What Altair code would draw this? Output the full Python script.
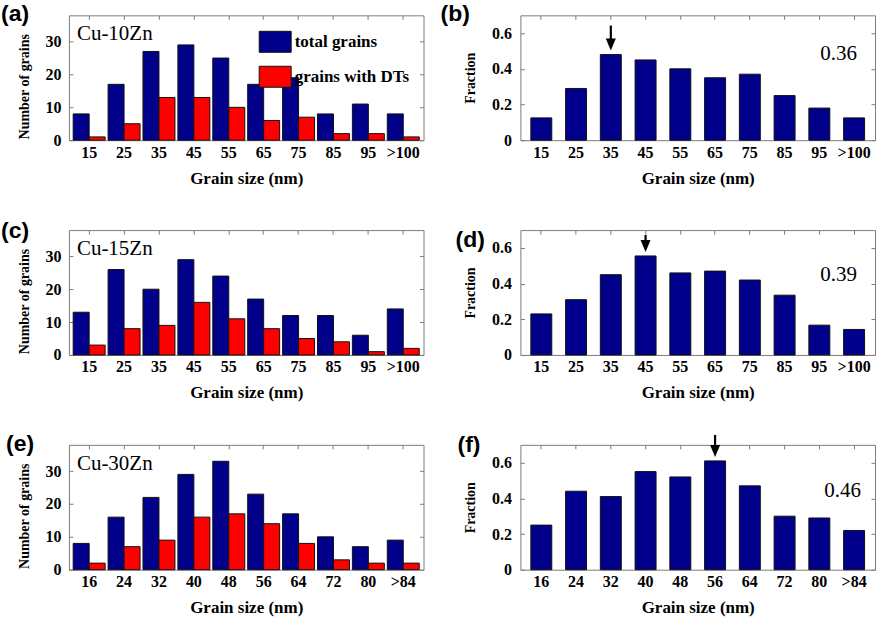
import altair as alt
import pandas as pd

# ---------------- data ----------------
sizes_10 = ["15", "25", "35", "45", "55", "65", "75", "85", "95", ">100"]
sizes_15 = ["15", "25", "35", "45", "55", "65", "75", "85", "95", ">100"]
sizes_30 = ["16", "24", "32", "40", "48", "56", "64", "72", "80", ">84"]
series = ["total grains", "grains with DTs"]

total_10 = [8, 17, 27, 29, 25, 17, 19, 8, 11, 8]
dts_10 = [1, 5, 13, 13, 10, 6, 7, 2, 2, 1]
frac_10 = [0.125, 0.29, 0.48, 0.45, 0.40, 0.35, 0.37, 0.25, 0.18, 0.125]

total_15 = [13, 26, 20, 29, 24, 17, 12, 12, 6, 14]
dts_15 = [3, 8, 9, 16, 11, 8, 5, 4, 1, 2]
frac_15 = [0.23, 0.31, 0.45, 0.555, 0.46, 0.47, 0.42, 0.335, 0.167, 0.143]

total_30 = [8, 16, 22, 29, 33, 23, 17, 10, 7, 9]
dts_30 = [2, 7, 9, 16, 17, 14, 8, 3, 2, 2]
frac_30 = [0.25, 0.44, 0.41, 0.55, 0.52, 0.61, 0.47, 0.30, 0.29, 0.22]

alloys = ["Cu-10Zn", "Cu-15Zn", "Cu-30Zn"]
mean_fraction = ["0.36", "0.39", "0.46"]
peak_size = ["35", "45", "56"]
letters = ["(a)", "(b)", "(c)", "(d)", "(e)", "(f)"]
count_ticks = [0, 10, 20, 30]
fraction_ticks = [0, 0.2, 0.4, 0.6]

# ---------------- style ----------------
SERIF = "Liberation Serif"
SANS = "Liberation Sans"
BLUE = "#00008B"
RED = "#FF0000"
FRAME = "#7a7a7a"
W, H = 355, 125
ARROW = "M-1,-1.2L1,-1.2L0,1.2Z"
SWATCH = "M-1,-0.656H1V0.656H-1Z"


def text_layer(txt, x, y, font, size, weight, align="left", baseline="top"):
    return alt.Chart(pd.DataFrame({"t": [txt]})).mark_text(
        font=font, fontSize=size, fontWeight=weight, align=align,
        baseline=baseline, color="black"
    ).encode(text="t:N", x=alt.value(x), y=alt.value(y))


def mirror_axes(ticks):
    top = alt.Axis(orient="top", labels=False, title=None, offset=-4, tickSize=4,
                   domain=False, grid=False)
    right = alt.Axis(orient="right", values=ticks, labels=False, title=None,
                     offset=-4, tickSize=4, domain=False, grid=False)
    return top, right


def count_panel(sizes, total, dts, alloy, letter, lx, ly, show_legend):
    n = len(sizes)
    df = pd.DataFrame({
        "size": sizes + sizes,
        "series": [series[0]] * n + [series[1]] * n,
        "count": total + dts,
    })
    xscale = alt.Scale(paddingInner=0.084, paddingOuter=0.122)
    yscale = alt.Scale(domain=[0, 38], nice=False, zero=True)
    xo = alt.XOffset("series:N", sort=series,
                     scale=alt.Scale(paddingInner=0, paddingOuter=0))
    if show_legend:
        legend = alt.Legend(
            title=None, orient="none", legendX=190, legendY=10, padding=0,
            symbolType=SWATCH, symbolSize=1024, symbolStrokeColor="#111",
            symbolStrokeWidth=1, symbolOpacity=1, labelFont=SERIF,
            labelFontSize=17, labelFontWeight="bold", labelColor="black",
            rowPadding=6, labelOffset=3, labelLimit=300,
        )
    else:
        legend = None
    bars = alt.Chart(df).mark_bar(stroke="#111", strokeWidth=1).encode(
        x=alt.X("size:N", sort=sizes, scale=xscale,
                axis=alt.Axis(title="Grain size (nm)", labelAngle=0, offset=-4,
                              tickSize=4, domain=False, labelPadding=4,
                              titlePadding=10)),
        xOffset=xo,
        y=alt.Y("count:Q", scale=yscale,
                axis=alt.Axis(title="Number of grains", values=count_ticks,
                              offset=-4, tickSize=4, domain=False, grid=False,
                              labelPadding=8, titlePadding=13, titleFontSize=14,
                              titleY=71)),
        color=alt.Color("series:N", sort=series,
                        scale=alt.Scale(domain=series, range=[BLUE, RED]),
                        legend=legend),
    )
    top, right = mirror_axes(count_ticks)
    mirror = alt.Chart(df).mark_bar(opacity=0).encode(
        x=alt.X("size:N", sort=sizes, scale=xscale, axis=top),
        xOffset=xo,
        y=alt.Y("count:Q", scale=yscale, axis=right),
    )
    return alt.layer(
        bars, mirror,
        text_layer(letter, lx, ly, SANS, 23, "bold"),
        text_layer(alloy, 8, 25, SERIF, 21, "normal", baseline="alphabetic"),
    ).resolve_axis(x="independent", y="independent").properties(width=W, height=H)


def fraction_panel(sizes, frac, peak, mean, letter, lx, ly, mx, my, arrow_len):
    df = pd.DataFrame({"size": sizes, "fraction": frac})
    peak_df = pd.DataFrame({"size": [peak], "fraction": [frac[sizes.index(peak)]]})
    xscale = alt.Scale(paddingInner=0.397, paddingOuter=0.3)
    yscale = alt.Scale(domain=[0, 0.7], nice=False, zero=True)
    bars = alt.Chart(df).mark_bar(color=BLUE, stroke="#111", strokeWidth=1).encode(
        x=alt.X("size:N", sort=sizes, scale=xscale,
                axis=alt.Axis(title="Grain size (nm)", labelAngle=0, offset=-4,
                              tickSize=4, domain=False, labelPadding=4,
                              titlePadding=10)),
        y=alt.Y("fraction:Q", scale=yscale,
                axis=alt.Axis(title="Fraction", values=fraction_ticks, format="~g",
                              offset=-4, tickSize=4, domain=False, grid=False,
                              labelPadding=9, titlePadding=14, titleFontSize=14)),
    )
    top, right = mirror_axes(fraction_ticks)
    mirror = alt.Chart(df).mark_bar(opacity=0).encode(
        x=alt.X("size:N", sort=sizes, scale=xscale, axis=top),
        y=alt.Y("fraction:Q", scale=yscale, axis=right),
    )
    shaft = alt.Chart(peak_df).mark_rule(
        color="black", strokeWidth=2.2, yOffset=-14, y2Offset=-arrow_len
    ).encode(
        x=alt.X("size:N", sort=sizes, scale=xscale, axis=None),
        y=alt.Y("fraction:Q", scale=yscale, axis=None),
        y2="fraction:Q",
    )
    head = alt.Chart(peak_df).mark_point(
        shape=ARROW, size=100, filled=True, color="black", opacity=1, yOffset=-10
    ).encode(
        x=alt.X("size:N", sort=sizes, scale=xscale, axis=None),
        y=alt.Y("fraction:Q", scale=yscale, axis=None),
    )
    return alt.layer(
        bars, mirror, shaft, head,
        text_layer(letter, lx, ly, SANS, 23, "bold"),
        text_layer(mean, mx, my, SERIF, 21, "normal", align="right",
                   baseline="alphabetic"),
    ).resolve_axis(x="independent", y="independent").properties(width=W, height=H)


pa = count_panel(sizes_10, total_10, dts_10, alloys[0], letters[0], -68, -12, True)
pb = fraction_panel(sizes_10, frac_10, peak_size[0], mean_fraction[0], letters[1],
                    -80, -12, 337, 45, 29)
pc = count_panel(sizes_15, total_15, dts_15, alloys[1], letters[2], -68, -10, False)
pd_ = fraction_panel(sizes_15, frac_15, peak_size[1], mean_fraction[1], letters[3],
                     -65, -1, 337, 51, 21)
pe = count_panel(sizes_30, total_30, dts_30, alloys[2], letters[4], -63, -12, False)
pf = fraction_panel(sizes_30, frac_30, peak_size[2], mean_fraction[2], letters[5],
                    -63, -11, 341, 52, 26)

chart = alt.concat(
    pa, pb, pc, pd_, pe, pf,
    columns=2,
    spacing=alt.RowColnumber(row=90, column=97),
    bounds="flush",
).resolve_scale(color="independent").properties(
    padding={"left": 0, "top": 2, "right": 0, "bottom": 0},
    background="white",
).configure_view(
    stroke=FRAME, strokeWidth=1
).configure_axis(
    labelFont=SERIF, labelFontSize=16, labelFontWeight="bold", labelColor="black",
    titleFont=SERIF, titleFontSize=17, titleFontWeight="bold", titleColor="black",
    tickColor=FRAME, tickWidth=1, grid=False,
)

chart.save("out.html", embed_options={"renderer": "svg", "actions": False})
